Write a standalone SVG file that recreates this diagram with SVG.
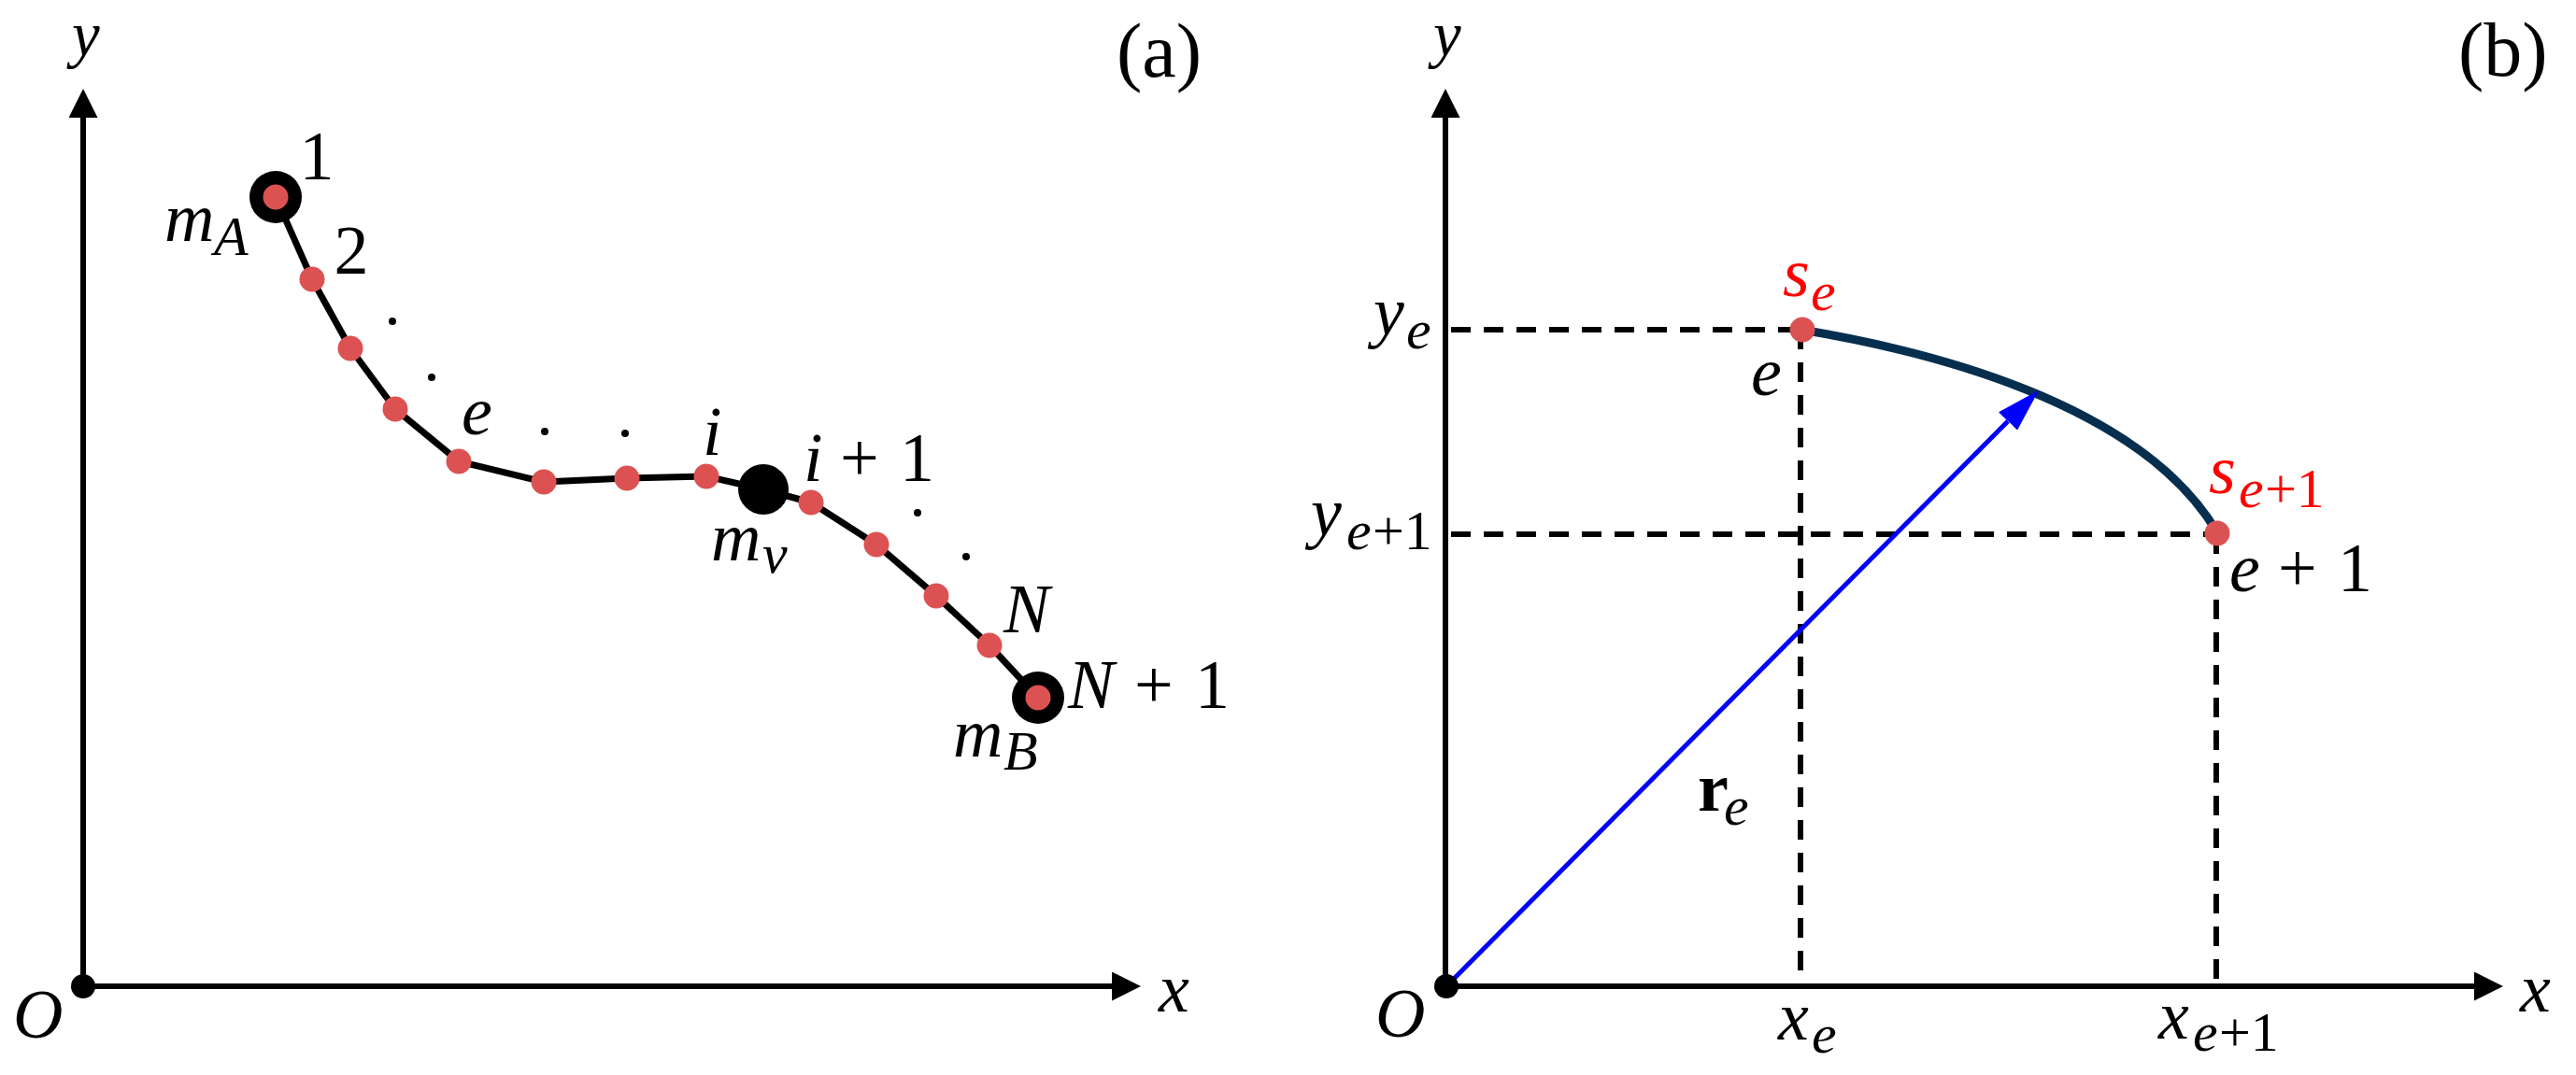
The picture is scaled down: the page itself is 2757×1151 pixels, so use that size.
<svg xmlns="http://www.w3.org/2000/svg" width="2757" height="1151" viewBox="0 0 2757 1151">
<style>
.m{font-family:"Liberation Serif","DejaVu Serif",serif;font-style:italic;font-size:74px;fill:#000}
.u{font-style:normal}
.s{font-size:60px}
.ax{font-size:67px}
.lab{font-family:"Liberation Serif","DejaVu Serif",serif;font-size:82px;fill:#000}
.red{fill:#FF0000}
.axis{stroke:#000;stroke-width:6;fill:none}
.dash{stroke:#000;stroke-width:6;stroke-dasharray:21 14;fill:none}
.chain{stroke:#000;stroke-width:7;fill:none;stroke-linejoin:round}
.dot{fill:#DC5252}
.pt{fill:#000}
</style>
<defs>
<marker id="ah" viewBox="0 0 31 31" refX="0" refY="15.5" markerWidth="31" markerHeight="31" markerUnits="userSpaceOnUse" orient="auto"><path d="M0,0 L31,15.5 L0,31 z" fill="#000"/></marker>
<marker id="bh" viewBox="0 0 47 28" refX="0" refY="14" markerWidth="47" markerHeight="28" markerUnits="userSpaceOnUse" orient="auto"><path d="M0,0 L47,14 L0,28 z" fill="#0000FF"/></marker>
</defs>
<rect width="2757" height="1151" fill="#fff"/>

<g id="connectors">
<line class="axis" x1="89" y1="1056" x2="89" y2="126" marker-end="url(#ah)"/>
<line class="axis" x1="89" y1="1056" x2="1190" y2="1056" marker-end="url(#ah)"/>
<polyline class="chain" points="295,211 334,299 375,373 423,438 491,494 582,516 671,512 756,510 817,524 868,538 938,583 1002,638 1059,691 1111,747"/>
<line class="axis" x1="1547" y1="1056" x2="1547" y2="126" marker-end="url(#ah)"/>
<line class="axis" x1="1547" y1="1056" x2="2648" y2="1056" marker-end="url(#ah)"/>
<line class="dash" x1="1553" y1="353" x2="1928" y2="353"/>
<line class="dash" x1="1553" y1="572" x2="2372" y2="572"/>
<line class="dash" x1="1927" y1="353" x2="1927" y2="1056"/>
<line class="dash" x1="2372" y1="572" x2="2372" y2="1056"/>
<path d="M1928,353 C2060,375 2290,430 2373,570" stroke="#062F4F" stroke-width="9" fill="none"/>
<line x1="1548" y1="1056" x2="2149" y2="451" stroke="#0000FF" stroke-width="5" marker-end="url(#bh)"/>
</g>

<g id="node-origin-a"><circle class="pt" cx="89" cy="1056" r="13"/></g>
<g id="node-origin-b"><circle class="pt" cx="1548" cy="1056" r="13"/></g>

<g id="node-mA"><circle cx="295" cy="211" r="28" fill="#000"/><circle class="dot" cx="295" cy="211" r="13.5"/></g>
<g id="node-mv"><circle cx="817" cy="524" r="27" fill="#000"/></g>
<g id="node-mB"><circle cx="1111" cy="747" r="28" fill="#000"/><circle class="dot" cx="1111" cy="747" r="13.5"/></g>

<g id="nodes-points">
<circle class="dot" cx="334" cy="299" r="13.5"/>
<circle class="dot" cx="375" cy="373" r="13.5"/>
<circle class="dot" cx="423" cy="438" r="13.5"/>
<circle class="dot" cx="491" cy="494" r="13.5"/>
<circle class="dot" cx="582" cy="516" r="13.5"/>
<circle class="dot" cx="671" cy="512" r="13.5"/>
<circle class="dot" cx="756" cy="510" r="13.5"/>
<circle class="dot" cx="868" cy="538" r="13.5"/>
<circle class="dot" cx="938" cy="583" r="13.5"/>
<circle class="dot" cx="1002" cy="638" r="13.5"/>
<circle class="dot" cx="1059" cy="691" r="13.5"/>
</g>

<g id="ellipsis">
<circle class="pt" cx="420" cy="344" r="4"/>
<circle class="pt" cx="462" cy="404" r="4"/>
<circle class="pt" cx="583" cy="462" r="4"/>
<circle class="pt" cx="669" cy="464" r="4"/>
<circle class="pt" cx="982" cy="549" r="4"/>
<circle class="pt" cx="1034" cy="596" r="4"/>
</g>

<g id="node-se"><circle class="dot" cx="1929" cy="353" r="13.5"/></g>
<g id="node-se1"><circle class="dot" cx="2373" cy="571" r="13.5"/></g>

<g id="labels-a">
<text class="lab" x="1195" y="82">(a)</text>
<text class="m ax" x="77" y="60">y</text>
<text class="m" x="14" y="1111">O</text>
<text class="m" x="1240" y="1083">x</text>
<text class="m u" x="339" y="192" text-anchor="middle">1</text>
<text class="m u" x="376" y="293" text-anchor="middle">2</text>
<text class="m" x="176" y="258">m<tspan class="s" x="229" y="273">A</tspan></text>
<text class="m" x="494" y="465">e</text>
<text class="m" x="752" y="487">i</text>
<text class="m" x="860" y="515">i<tspan class="u" x="899">+</tspan><tspan class="u" x="963">1</tspan></text>
<text class="m" x="761" y="600">m<tspan class="s" x="816" y="613">v</tspan></text>
<text class="m" x="1074" y="677">N</text>
<text class="m" x="1143" y="758">N<tspan class="u" x="1214">+</tspan><tspan class="u" x="1279">1</tspan></text>
<text class="m" x="1020" y="810">m<tspan class="s" x="1074" y="824">B</tspan></text>
</g>

<g id="labels-b">
<text class="lab" x="2631" y="81">(b)</text>
<text class="m ax" x="1534" y="60">y</text>
<text class="m" x="1472" y="1110">O</text>
<text class="m" x="2697" y="1083">x</text>
<text class="m" x="1470" y="358">y<tspan class="s" x="1505" y="373">e</tspan></text>
<text class="m" x="1403" y="573">y<tspan class="s" x="1441" y="588">e</tspan><tspan class="s u" x="1469" y="588">+1</tspan></text>
<text class="m red" x="1908" y="317">s<tspan class="s" x="1938" y="332">e</tspan></text>
<text class="m red" x="2364" y="528">s<tspan class="s" x="2396" y="543">e</tspan><tspan class="s u" x="2424" y="543">+1</tspan></text>
<text class="m" x="1874" y="423">e</text>
<text class="m" x="2386" y="633">e<tspan class="u" x="2438">+</tspan><tspan class="u" x="2502">1</tspan></text>
<text class="m" x="1903" y="1113">x<tspan class="s" x="1939" y="1127">e</tspan></text>
<text class="m" x="2310" y="1112">x<tspan class="s" x="2347" y="1125">e</tspan><tspan class="s u" x="2375" y="1125">+1</tspan></text>
<text class="m u" x="1817" y="868" font-weight="bold">r<tspan class="s" x="1845" y="883" font-style="italic" font-weight="normal">e</tspan></text>
</g>
</svg>
